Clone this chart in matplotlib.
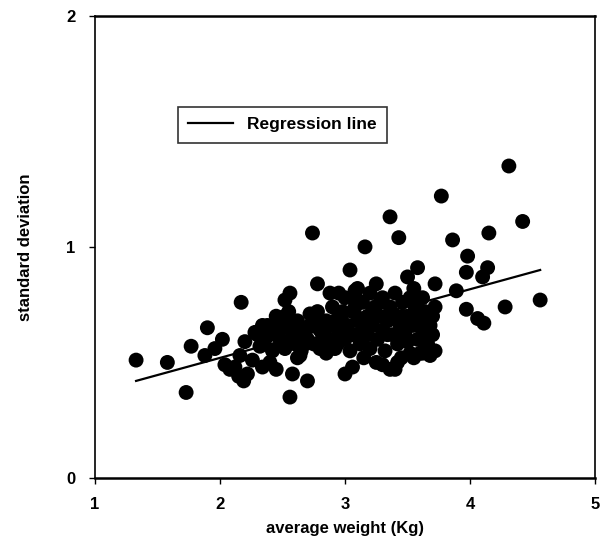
import numpy as np
import matplotlib
matplotlib.use("Agg")
from matplotlib import pyplot as plt

plt.rcParams['font.family'] = ['Liberation Sans', 'DejaVu Sans']

# average weight (Kg) of each point
weight = [
    1.33, 1.58, 1.73, 1.77, 1.90, 1.88, 1.96, 2.02, 2.04, 2.12,
    2.17, 2.19, 2.22, 2.16, 2.20, 2.28, 2.34, 2.26, 2.34, 2.36,
    2.40, 2.44, 2.48, 2.52, 2.56, 2.54, 2.60, 2.58, 2.56, 2.64,
    2.68, 2.70, 2.72, 2.74, 2.78, 2.80, 2.84, 2.88, 2.92, 2.94,
    3.00, 3.04, 3.06, 3.08, 3.10, 3.12, 3.16, 3.36, 3.43, 3.77,
    4.31, 4.42, 3.86, 4.15, 3.98, 4.14, 3.97, 4.10, 3.89, 4.56,
    3.97, 4.28, 4.06, 4.11, 3.72, 3.58, 3.50, 3.50, 3.67, 3.68,
    3.60, 3.40, 3.30, 3.36,
    2.30, 2.35, 2.38, 2.42, 2.45, 2.48, 2.50, 2.52, 2.55, 2.58,
    2.60, 2.62, 2.65, 2.68, 2.70, 2.72, 2.75, 2.78, 2.80, 2.82,
    2.85, 2.88, 2.90, 2.92, 2.95, 2.97, 3.00, 3.00, 3.02, 3.04,
    3.06, 3.08, 3.10, 3.12, 3.14, 3.16, 3.18, 3.20, 3.20, 3.22,
    3.24, 3.26, 3.28, 3.30, 3.30, 3.32, 3.34, 3.36, 3.38, 3.40,
    3.42, 3.44, 3.46, 3.48, 3.50, 3.52, 3.54, 3.56, 3.58, 3.60,
    3.62, 3.64, 3.66, 3.68, 3.70, 3.70, 3.72, 3.10, 3.25, 3.40,
    3.55, 3.62, 2.95, 2.40, 2.62, 2.85, 3.15, 3.45, 3.62, 3.72,
    3.25, 3.42, 3.55, 3.65, 2.45, 2.15, 2.08,
    2.46, 2.58, 2.66, 2.88, 2.98, 3.08, 3.18, 3.28, 3.38, 3.48,
    3.58, 3.66, 3.22, 3.34, 3.46, 3.05, 2.76, 2.52, 2.32, 3.52,
]

# standard deviation of each point
stdev = [
    0.51, 0.50, 0.37, 0.57, 0.65, 0.53, 0.56, 0.60, 0.49, 0.48,
    0.76, 0.42, 0.45, 0.53, 0.59, 0.63, 0.66, 0.51, 0.48, 0.60,
    0.62, 0.64, 0.68, 0.77, 0.80, 0.58, 0.64, 0.45, 0.35, 0.53,
    0.58, 0.42, 0.71, 1.06, 0.84, 0.64, 0.60, 0.80, 0.68, 0.58,
    0.45, 0.90, 0.48, 0.81, 0.77, 0.69, 1.00, 1.13, 1.04, 1.22,
    1.35, 1.11, 1.03, 1.06, 0.96, 0.91, 0.89, 0.87, 0.81, 0.77,
    0.73, 0.74, 0.69, 0.67, 0.84, 0.91, 0.87, 0.59, 0.56, 0.53,
    0.54, 0.47, 0.49, 0.47,
    0.62, 0.58, 0.66, 0.55, 0.70, 0.60, 0.65, 0.56, 0.72, 0.62,
    0.58, 0.68, 0.55, 0.64, 0.60, 0.66, 0.58, 0.72, 0.56, 0.62,
    0.68, 0.60, 0.74, 0.56, 0.64, 0.70, 0.60, 0.78, 0.66, 0.55,
    0.72, 0.62, 0.68, 0.58, 0.76, 0.64, 0.70, 0.56, 0.80, 0.66,
    0.74, 0.60, 0.70, 0.64, 0.78, 0.55, 0.68, 0.74, 0.62, 0.70,
    0.58, 0.66, 0.76, 0.62, 0.70, 0.54, 0.66, 0.74, 0.60, 0.68,
    0.64, 0.72, 0.58, 0.66, 0.70, 0.62, 0.74, 0.82, 0.84, 0.80,
    0.82, 0.78, 0.80, 0.50, 0.52, 0.54, 0.52, 0.52, 0.54, 0.55,
    0.50, 0.50, 0.52, 0.55, 0.47, 0.44, 0.47,
    0.64, 0.66, 0.62, 0.66, 0.72, 0.74, 0.62, 0.76, 0.70, 0.64,
    0.72, 0.62, 0.72, 0.62, 0.70, 0.62, 0.68, 0.70, 0.57, 0.78,
]

# regression line end points
reg_x = [1.33, 4.56]
reg_y = [0.42, 0.90]

fig = plt.figure(figsize=(6, 5.45), dpi=100)
ax = fig.add_axes([0.158, 0.123, 0.834, 0.848])

ax.plot(reg_x, reg_y, color="black", lw=1.6, zorder=2, label="Regression line")
ax.scatter(weight, stdev, s=115, color="black", edgecolors="none", zorder=3)

ax.set_xlim(1, 5)
ax.set_ylim(0, 2)
ax.set_xticks([1, 2, 3, 4, 5])
ax.set_yticks([0, 1, 2])
ax.tick_params(direction="out", length=4, width=1, labelsize=12, pad=10)
for lbl in ax.get_xticklabels() + ax.get_yticklabels():
    lbl.set_fontweight("bold")

for s in ax.spines.values():
    s.set_linewidth(1.2)
ax.spines["bottom"].set_linewidth(1.8)
ax.spines["top"].set_linewidth(1.8)

ax.set_xlabel("average weight (Kg)", fontsize=12, fontweight="bold", labelpad=6)
ax.set_ylabel("standard deviation", fontsize=12, fontweight="bold", labelpad=24)

leg = ax.legend(loc="upper left", bbox_to_anchor=(0.166, 0.803), borderaxespad=0,
                fancybox=False, edgecolor="black", fontsize=12.5, handlelength=2.6,
                handletextpad=0.8, borderpad=0.6, prop={"weight": "bold", "size": 12.5})
leg.get_frame().set_linewidth(1.2)

plt.savefig("out.png", dpi=100)
